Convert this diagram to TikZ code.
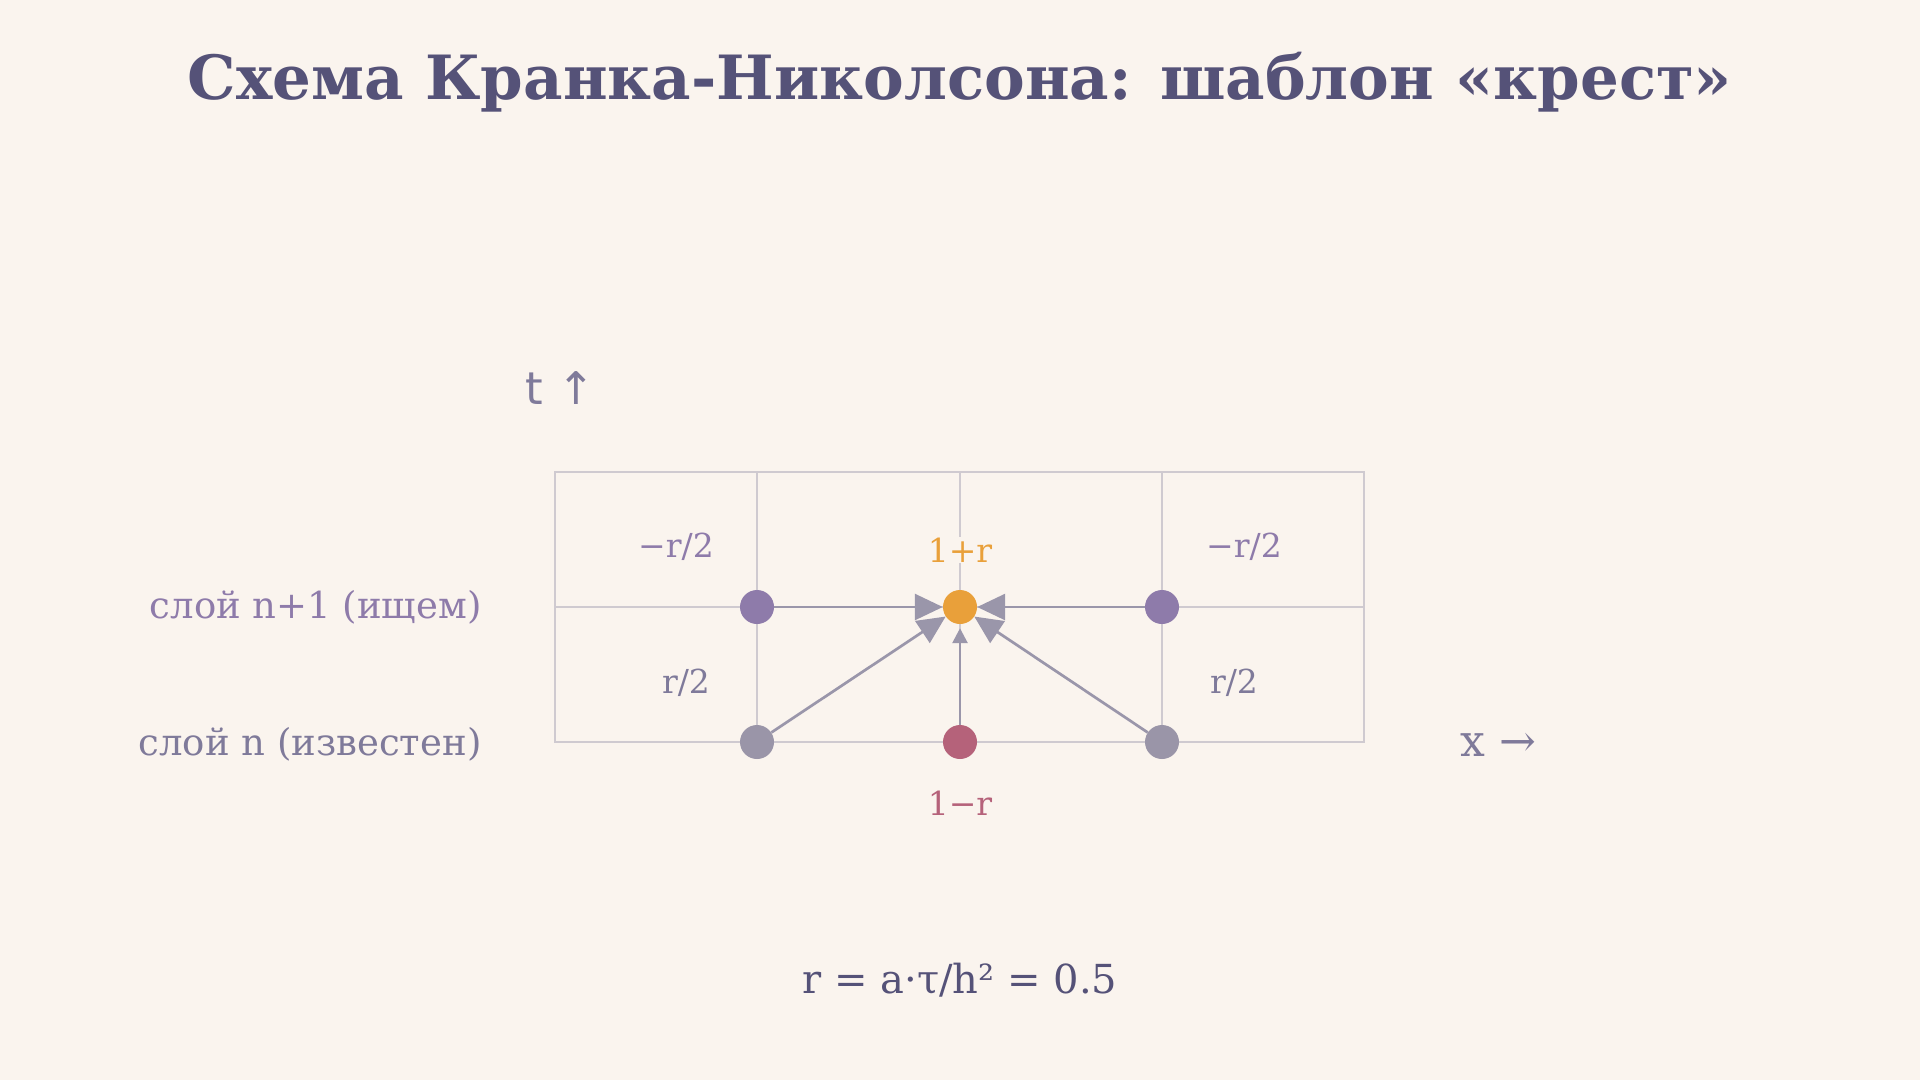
\documentclass[tikz,border=0pt]{standalone}
\usepackage{fontspec}
\setmainfont{DejaVu Serif}
\newfontfamily\axisfont{DejaVu Sans}
\usetikzlibrary{arrows.meta}
\definecolor{bg}{HTML}{FAF4EE}
\definecolor{ink}{HTML}{555278}
\definecolor{gridc}{HTML}{CFCAD0}
\definecolor{arr}{HTML}{9A96AA}
\definecolor{known}{HTML}{9A95A8}
\definecolor{seek}{HTML}{8E7BAA}
\definecolor{centre}{HTML}{E9A03A}
\definecolor{prev}{HTML}{B5627A}
\definecolor{lbl}{HTML}{7F7A9A}

\tikzset{
  pt/.style={circle,inner sep=0pt,minimum size=34pt},
  wt/.style={anchor=base,font=\fontsize{33}{40}\selectfont,text=lbl},
  layer/.style={anchor=base east,font=\fontsize{37}{44}\selectfont},
  link/.style={draw=arr,line width=2.7pt,-{Triangle[length=28pt,width=26pt]}},
}

\begin{document}
\begin{tikzpicture}[x=1pt,y=-1pt]
        \fill[bg] (0,0) rectangle (1920,1080);
        \node[anchor=base,font=\bfseries\fontsize{61}{72}\selectfont,text=ink] (title) at (960,99) {Схема Кранка-Николсона: шаблон «крест»};
        % grid
        \draw[gridc,line width=2pt] (555,472) rectangle (1364,742)
              (555,607) -- (1364,607) (757,472) -- (757,742)
              (960,472) -- (960,742) (1162,472) -- (1162,742);
        \node[anchor=base west,font=\axisfont\fontsize{45}{50}\selectfont,text=lbl] (tlab) at (522,404) {t ↑};
        \node[anchor=base west,font=\fontsize{44}{50}\selectfont,text=lbl] (xlab) at (1457,756) {x →};
        \node[layer,text=seek] (top) at (485,618) {слой n+1 (ищем)};
        \node[layer,text=lbl] (bot) at (485,755) {слой n (известен)};
        % points
        \node[pt,fill=seek] (l1) at (757,607) {};
        \node[pt,fill=centre] (c1) at (960,607) {};
        \node[pt,fill=seek] (r1) at (1162,607) {};
        \node[pt,fill=known] (l0) at (757,742) {};
        \node[pt,fill=prev] (c0) at (960,742) {};
        \node[pt,fill=known] (r0) at (1162,742) {};
        \draw[link] (l1) -- (c1);
        \draw[link] (r1) -- (c1);
        \draw[link] (l0) -- (c1);
        \draw[link] (r0) -- (c1);
        \draw[draw=arr,line width=2.7pt,-{Triangle[length=15pt,width=15pt]},shorten >=4pt] (c0) -- (c1);
        % weights
        \node[wt,text=seek] (wl1) at (676,557) {−r/2};
        \node[wt,text=seek] (wr1) at (1244,557) {−r/2};
        \node[wt,text=centre,fill=bg,inner sep=1pt] (wc1) at (960,562) {1+r};
        \node[wt] (wl0) at (686,693) {r/2};
        \node[wt] (wr0) at (1234,693) {r/2};
        \node[wt,text=prev] (wc0) at (960,815) {1−r};
        \node[anchor=base,font=\fontsize{40}{48}\selectfont,text=ink] (rdef) at (960,993) {r = a·τ/h² = 0.5};
      \end{tikzpicture}
\end{document}
